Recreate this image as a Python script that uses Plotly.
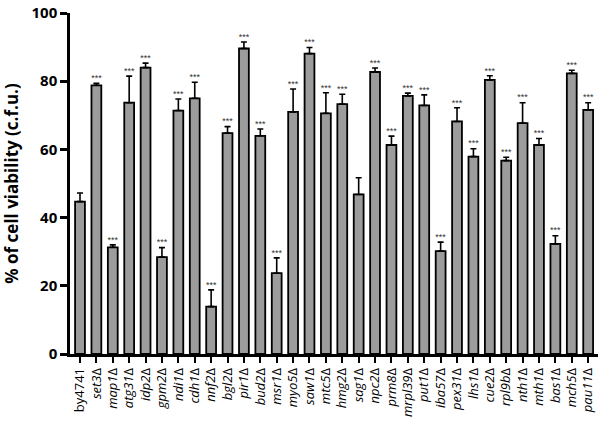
import plotly.graph_objects as go

strains = ["by4741", "set3", "map1", "atg31", "idp2", "gpm2", "ndi1", "cdh1", "nnf2", "bgl2",
           "pir1", "bud2", "msr1", "myo5", "saw1", "mtc5", "hmg2", "sag1", "npc2", "prm8",
           "mrpl39", "put1", "iba57", "pex31", "lhs1", "cue2", "rpl9b", "nth1", "mth1", "bas1",
           "mch5", "pau11"]
viability = [44.7, 78.8, 31.3, 73.7, 84.0, 28.4, 71.4, 75.0, 13.9, 64.8,
             89.6, 64.0, 23.7, 71.0, 88.1, 70.6, 73.3, 46.8, 82.7, 61.3,
             75.7, 72.9, 30.2, 68.2, 57.9, 80.4, 56.7, 67.7, 61.3, 32.3,
             82.3, 71.6]
sem = [2.5, 0.6, 0.7, 7.8, 1.3, 2.8, 3.4, 4.7, 4.9, 1.9,
       1.9, 2.0, 4.5, 6.7, 1.8, 6.0, 2.9, 4.9, 1.2, 2.6,
       0.8, 3.1, 2.6, 4.0, 2.3, 1.2, 1.0, 6.0, 1.9, 2.4,
       0.9, 2.1]
significance = ["", "***", "***", "***", "***", "***", "***", "***", "***", "***",
                "***", "***", "***", "***", "***", "***", "***", "", "***", "***",
                "***", "***", "***", "***", "***", "***", "***", "***", "***", "***",
                "***", "***"]
yticks = [0, 20, 40, 60, 80, 100]

labels = [s if i == 0 else f"<i>{s}</i>Δ" for i, s in enumerate(strains)]
tops = [v + e for v, e in zip(viability, sem)]

fig = go.Figure()
fig.add_trace(go.Bar(
    x=strains, y=viability, width=0.6,
    marker=dict(color="#9c9c9c", line=dict(color="black", width=1.8)),
    error_y=dict(type="data", symmetric=False, array=sem, arrayminus=[0] * len(sem),
                 color="black", thickness=1.6, width=3),
    showlegend=False,
))
fig.add_trace(go.Scatter(
    x=strains, y=tops, mode="text", text=significance,
    textposition="top center",
    textfont=dict(size=9, color="#333333", family="Liberation Sans"),
    showlegend=False, hoverinfo="skip",
))

fig.update_layout(
    width=600, height=421,
    margin=dict(l=70, r=2, t=8, b=67),
    plot_bgcolor="white", paper_bgcolor="white",
    bargap=0.4,
)
fig.update_xaxes(
    type="category", categoryorder="array", categoryarray=strains,
    tickvals=strains, ticktext=labels, tickangle=-90,
    range=[-0.61, 31.6],
    showline=True, linecolor="black", linewidth=2.5,
    ticks="outside", ticklen=6, tickwidth=2, tickcolor="black",
    tickfont=dict(family="Open Sans", size=13, color="black"),
    showgrid=False, zeroline=False,
)
fig.update_yaxes(
    range=[0, 100.01], tickvals=yticks, ticktext=[f"<b>{t}</b>" for t in yticks],
    ticklabeloverflow="allow",
    showline=True, linecolor="black", linewidth=2.5,
    ticks="outside", ticklen=7, tickwidth=2.5, tickcolor="black",
    tickfont=dict(family="Open Sans", size=15, color="black"),
    title=dict(text="<b>% of cell viability (c.f.u.)</b>",
               font=dict(family="Open Sans", size=17, color="black"), standoff=11),
    showgrid=False, zeroline=False,
)

fig.write_html("out.html", config={"displayModeBar": False},
               post_script="document.body.style.margin='0';document.body.style.overflow='hidden';")
